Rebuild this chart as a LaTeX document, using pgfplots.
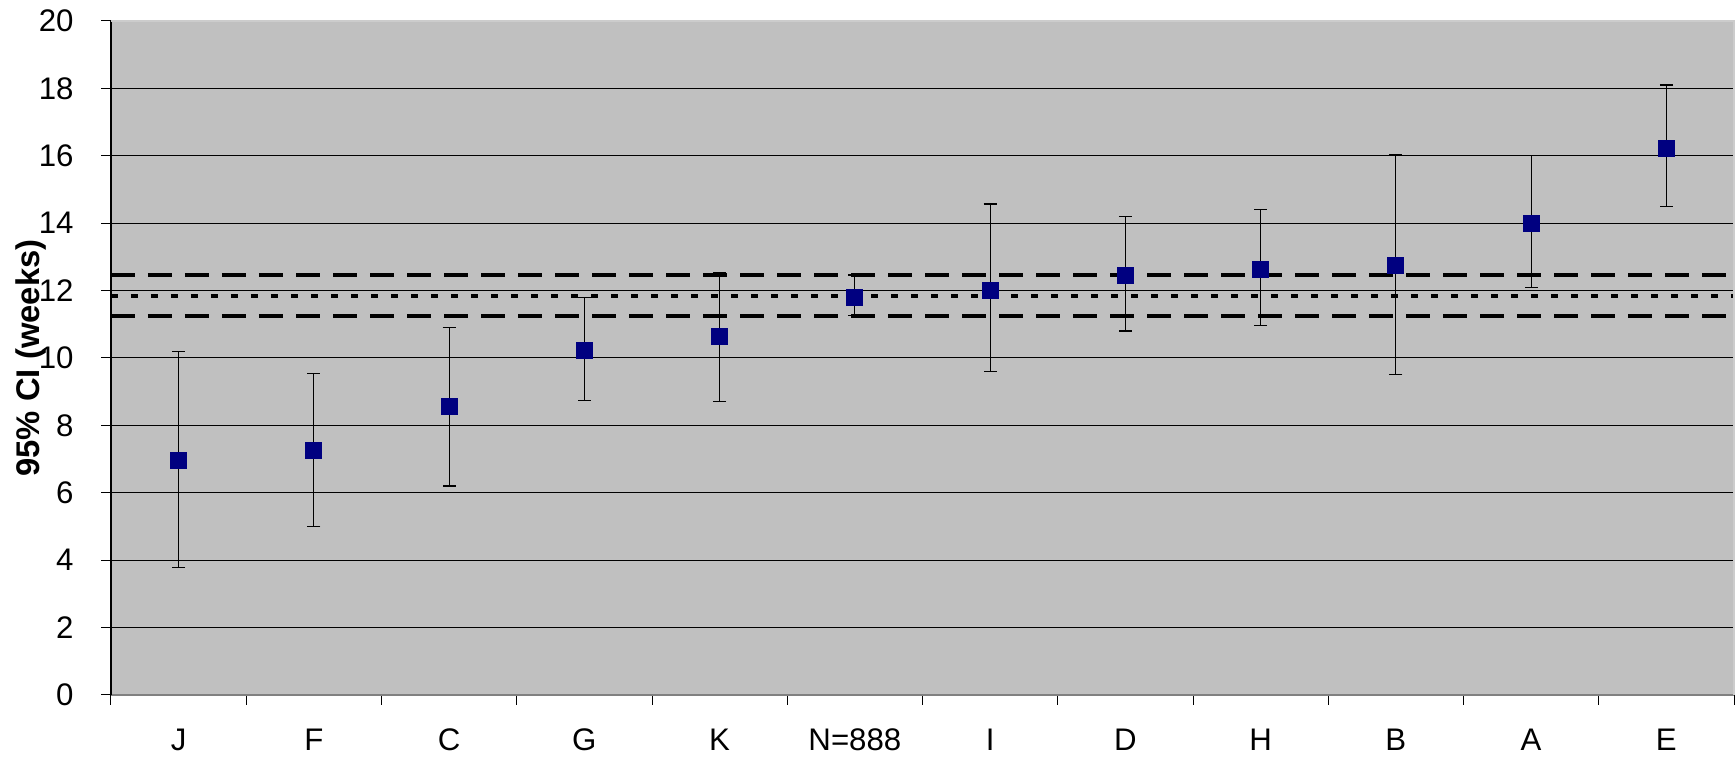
\documentclass[border=0pt]{standalone}
\usepackage{fontspec}
\setmainfont{Liberation Sans}
\usepackage{pgfplots}
\usepackage{pgfplotstable}
\pgfplotsset{compat=1.18}
\definecolor{navy}{HTML}{000080}
\definecolor{bg}{HTML}{C0C0C0}
\pgfplotstableread{
x y lo hi
0 6.96 3.79 10.20
1 7.26 5.00 9.54
2 8.56 6.20 10.91
3 10.23 8.74 11.80
4 10.64 8.72 12.52
5 11.81 11.25 12.46
6 12.02 9.60 14.57
7 12.44 10.80 14.20
8 12.64 10.96 14.40
9 12.74 9.50 16.04
10 14.00 12.10 16.01
11 16.23 14.50 18.10
}\datatable
\begin{document}
\begin{tikzpicture}
\begin{axis}[name=ax,
  width=811.5pt, height=337pt, scale only axis,
  xmin=-0.5, xmax=11.5, ymin=0, ymax=20,
  axis background/.style={fill=bg},
  axis x line*=bottom, axis y line*=left,
  x axis line style={draw=gray,line width=0.8pt,-},
  y axis line style={draw=black,line width=0.6pt,-},
  xtick={-0.5,0.5,...,11.5}, xticklabels={},
  extra x ticks={0,1,...,11},
  extra x tick labels={J,F,C,G,K,N=888,I,D,H,B,A,E},
  extra x tick style={major tick length=0pt, grid=none},
  ytick={0,2,...,20},
  ymajorgrids, major grid style={black, line width=0.5pt},
  tick style={black, line width=0.5pt},
  major tick length=5pt, tick align=outside,
  ticklabel style={font=\fontsize{15.6}{18}\selectfont},
  /pgf/number format/assume math mode=true,
  xticklabel style={anchor=base, yshift=-28pt},
  yticklabel style={anchor=east, inner sep=0pt, xshift=-13.5pt},
  ylabel={95\% CI (weeks)},
  ylabel style={font=\bfseries\fontsize{16.4}{19}\selectfont, at={(axis description cs:-0.0493,0.5)}, anchor=center},
]
\addplot[only marks, mark=square*, mark size=4pt, mark options={fill=navy,draw=navy},
  error bars/.cd, y dir=both, y explicit,
  error bar style={black,line width=0.6pt},
  error mark options={black, rotate=90, mark size=3.25pt, line width=0.6pt}]
  table[x=x, y=y, y error plus expr=\thisrow{hi}-\thisrow{y}, y error minus expr=\thisrow{y}-\thisrow{lo}]{\datatable};
\addplot[black, line width=2.2pt, dash pattern=on 12pt off 6.5pt] coordinates {(-0.5,12.46) (11.5,12.46)};
\addplot[black, line width=2.2pt, dash pattern=on 3.5pt off 6.5pt] coordinates {(-0.5,11.84) (11.5,11.84)};
\addplot[black, line width=2.2pt, dash pattern=on 12pt off 6.5pt] coordinates {(-0.5,11.25) (11.5,11.25)};
\end{axis}
\draw[gray!40, line width=0.6pt] (ax.north west) -- (ax.north east) -- (ax.south east);
\pgfresetboundingbox
\path (ax.south west) ++(-55.5pt,-32pt) rectangle ([shift={(1pt,10.5pt)}]ax.north east);
\end{tikzpicture}
\end{document}
